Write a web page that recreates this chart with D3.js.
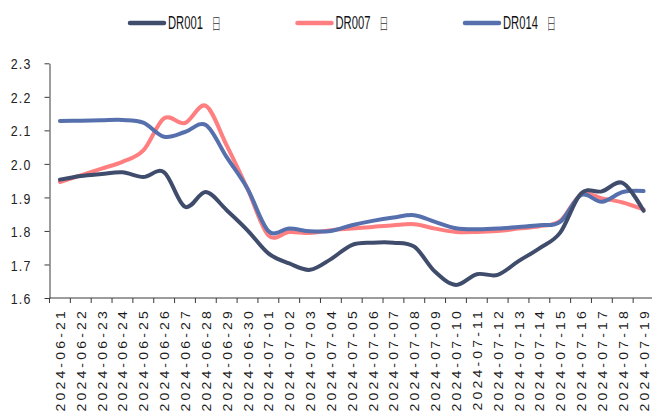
<!DOCTYPE html>
<html>
<head>
<meta charset="utf-8">
<script src="https://cdn.jsdelivr.net/npm/d3@7/dist/d3.min.js"></script>
<style>
  html, body { margin: 0; padding: 0; background: #fff; }
  svg { display: block; }
</style>
</head>
<body>
<svg id="chart" width="652" height="415"></svg>
<script>
// Dates on the category axis
const dates = [
  "2024-06-21","2024-06-22","2024-06-23","2024-06-24","2024-06-25","2024-06-26",
  "2024-06-27","2024-06-28","2024-06-29","2024-06-30","2024-07-01","2024-07-02",
  "2024-07-03","2024-07-04","2024-07-05","2024-07-06","2024-07-07","2024-07-08",
  "2024-07-09","2024-07-10","2024-07-11","2024-07-12","2024-07-13","2024-07-14",
  "2024-07-15","2024-07-16","2024-07-17","2024-07-18","2024-07-19"
];

// Repo rates (%)
const dr001 = [1.953,1.964,1.970,1.975,1.961,1.975,1.872,1.916,1.862,1.802,
               1.733,1.703,1.684,1.716,1.758,1.765,1.765,1.753,1.678,1.639,
               1.671,1.669,1.710,1.748,1.795,1.912,1.918,1.943,1.860];
const dr007 = [1.946,1.966,1.986,2.006,2.040,2.136,2.122,2.173,2.055,1.925,
               1.787,1.797,1.794,1.802,1.807,1.812,1.817,1.820,1.807,1.797,
               1.797,1.800,1.807,1.814,1.830,1.909,1.897,1.885,1.864];
const dr014 = [2.128,2.129,2.130,2.131,2.123,2.081,2.095,2.116,2.020,1.926,
               1.800,1.807,1.799,1.800,1.817,1.830,1.840,1.847,1.827,1.808,
               1.805,1.807,1.812,1.817,1.827,1.907,1.887,1.916,1.919];

const yTicks = [1.6, 1.7, 1.8, 1.9, 2.0, 2.1, 2.2, 2.3];

const seriesCodes = ["DR001", "DR007", "DR014"];
const seriesUnit = "日";
const seriesColors = ["#404c6c", "#ff7f80", "#5670ad"];

const series = seriesCodes.map((c, i) => ({
  code: c, color: seriesColors[i], values: [dr001, dr007, dr014][i]
}));

const svg = d3.select("#chart");
const plotLeft = 49.5, plotRight = 654, plotTop = 63.3, plotBottom = 298;

const x = d3.scaleBand().domain(dates).range([plotLeft, plotRight]).padding(0);
const y = d3.scaleLinear().domain([1.6, 2.3]).range([plotBottom, plotTop]);

const axisFont = "'Liberation Sans', Arial, sans-serif";
const squeeze = 0.8;   // horizontal condensing of the tick digits

// Y axis
const yAxis = svg.append("g")
  .attr("transform", `translate(${plotLeft},0)`)
  .call(d3.axisLeft(y).tickValues(yTicks).tickSize(5).tickSizeOuter(0)
    .tickFormat(d3.format(".1f")));
yAxis.select(".domain").attr("stroke", "#3a3a3a");
yAxis.selectAll(".tick line").attr("stroke", "#3a3a3a");
yAxis.selectAll(".tick text")
  .attr("x", -18 / squeeze)
  .attr("transform", `scale(${squeeze},1)`)
  .attr("fill", "#222")
  .style("font-family", axisFont)
  .style("font-size", "15.5px")
  .style("letter-spacing", "1.5px")
  .attr("dy", "0.36em");

// X axis: labels at band centres, ticks at band edges
const xAxis = svg.append("g").attr("transform", `translate(0,${plotBottom})`);
xAxis.append("line")
  .attr("x1", plotLeft).attr("x2", plotRight)
  .attr("stroke", "#3a3a3a");
xAxis.selectAll("line.tk")
  .data(dates.concat(["__end"]))
  .join("line")
  .attr("class", "tk")
  .attr("x1", d => d === "__end" ? plotRight : x(d))
  .attr("x2", d => d === "__end" ? plotRight : x(d))
  .attr("y1", 0).attr("y2", 5)
  .attr("stroke", "#3a3a3a");
xAxis.selectAll("text")
  .data(dates)
  .join("text")
  .attr("transform", d => `translate(${x(d) + x.bandwidth() / 2 + 5},10) rotate(-90) scale(1,0.92)`)
  .attr("text-anchor", "end")
  .attr("fill", "#1a1a1a")
  .style("font-family", axisFont)
  .style("font-size", "14px")
  .style("letter-spacing", "3.2px")
  .text(d => d);

// Smoothed lines
const line = d3.line()
  .x((d, i) => x(dates[i]) + x.bandwidth() / 2)
  .y(d => y(d))
  .curve(d3.curveCardinal.tension(0));

const drawOrder = [1, 2, 0];
svg.append("g").selectAll("path")
  .data(drawOrder.map(i => series[i]))
  .join("path")
  .attr("d", d => line(d.values))
  .attr("fill", "none")
  .attr("stroke", d => d.color)
  .attr("stroke-width", 4)
  .attr("stroke-linejoin", "round")
  .attr("stroke-linecap", "round");

// Legend
const legendX = [130, 297.5, 465];
const legend = svg.append("g");
series.forEach((s, i) => {
  const g = legend.append("g").attr("transform", `translate(${legendX[i]},23)`);
  g.append("line")
    .attr("x1", 0).attr("x2", 34)
    .attr("stroke", s.color)
    .attr("stroke-width", 4.5)
    .attr("stroke-linecap", "round");
  const t = g.append("text")
    .attr("transform", "translate(38,0) scale(0.64,1)")
    .attr("dy", "0.36em")
    .attr("fill", "#111")
    .style("font-family", axisFont)
    .style("font-size", "17.5px");
  t.append("tspan").text(s.code);
  t.append("tspan")
    .attr("dx", 10)
    .attr("fill", "#333")
    .style("font-family", "'Noto Sans CJK SC', sans-serif")
    .style("font-size", "15px")
    .style("font-weight", "300")
    .text(" " + seriesUnit);
});
</script>
</body>
</html>
